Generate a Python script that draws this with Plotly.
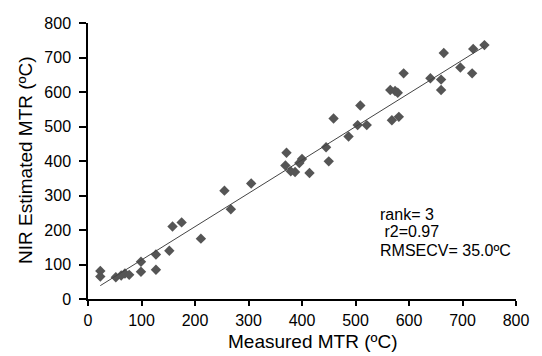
import numpy as np
import plotly.graph_objects as go

measured = [23, 23, 52, 62, 69, 77, 99, 99, 127, 127, 152, 158, 175, 211, 255, 267, 305,
            371, 369, 379, 387, 400, 395, 414, 445, 450, 459, 487, 504, 509, 521, 565, 574,
            579, 568, 581, 590, 640, 660, 660, 665, 696, 718, 720, 741]
estimated = [81, 65, 63, 68, 74, 70, 108, 79, 129, 85, 140, 210, 222, 175, 314, 260, 335,
             424, 387, 370, 368, 406, 394, 365, 440, 399, 523, 471, 504, 561, 504, 606, 603,
             598, 518, 528, 654, 640, 636, 606, 713, 671, 654, 725, 736]
tick_vals = [0, 100, 200, 300, 400, 500, 600, 700, 800]
stats_lines = ["rank= 3", "\u00a0r2=0.97", "RMSECV= 35.0ºC"]
stats_y = [246, 196, 142]

x = np.array(measured, dtype=float)
y = np.array(estimated, dtype=float)
slope, intercept = np.polyfit(x, y, 1)
fit_x = np.array([x.min(), x.max()])
fit_y = slope * fit_x + intercept

FONT = "Arial, Liberation Sans, sans-serif"

fig = go.Figure()
fig.add_trace(go.Scatter(
    x=x, y=y, mode="markers",
    marker=dict(symbol="diamond", size=8, color="#555555", line=dict(width=0)),
    showlegend=False,
))
fig.add_trace(go.Scatter(
    x=fit_x, y=fit_y, mode="lines",
    line=dict(color="#444444", width=1),
    showlegend=False,
))

axis_common = dict(
    range=[0, 800], tickvals=tick_vals, showgrid=False, zeroline=False,
    showline=True, linecolor="black", linewidth=1.5,
    ticks="outside", tickwidth=1.5, tickcolor="black",
    tickfont=dict(family=FONT, size=16, color="black"),
    ticklabeloverflow="allow",
)
fig.update_xaxes(**axis_common, ticklen=5, ticklabelstandoff=1)
fig.update_yaxes(**axis_common, ticklen=7, ticklabelstandoff=5)

for line, yy in zip(stats_lines, stats_y):
    fig.add_annotation(
        text=line, x=542, y=yy, xref="x", yref="y",
        xanchor="left", yanchor="middle", align="left", showarrow=False,
        font=dict(family=FONT, size=16, color="black"),
    )
fig.add_annotation(
    text="Measured MTR (ºC)", x=421, y=-0.153, xref="x", yref="paper",
    xanchor="center", yanchor="middle", showarrow=False,
    font=dict(family=FONT, size=19, color="black"),
)
fig.add_annotation(
    text="NIR Estimated MTR (ºC)", x=-0.1465, y=0.505, xref="paper", yref="paper",
    xanchor="center", yanchor="middle", textangle=-90, showarrow=False,
    font=dict(family=FONT, size=19, color="black"),
)

# page body has an 8px default margin, so the figure is offset by 8px
fig.update_layout(
    width=534, height=348,
    margin=dict(l=80, r=26, t=7, b=57),
    plot_bgcolor="white", paper_bgcolor="white",
    font=dict(family=FONT, color="black"),
)

fig.write_html("out.html")
